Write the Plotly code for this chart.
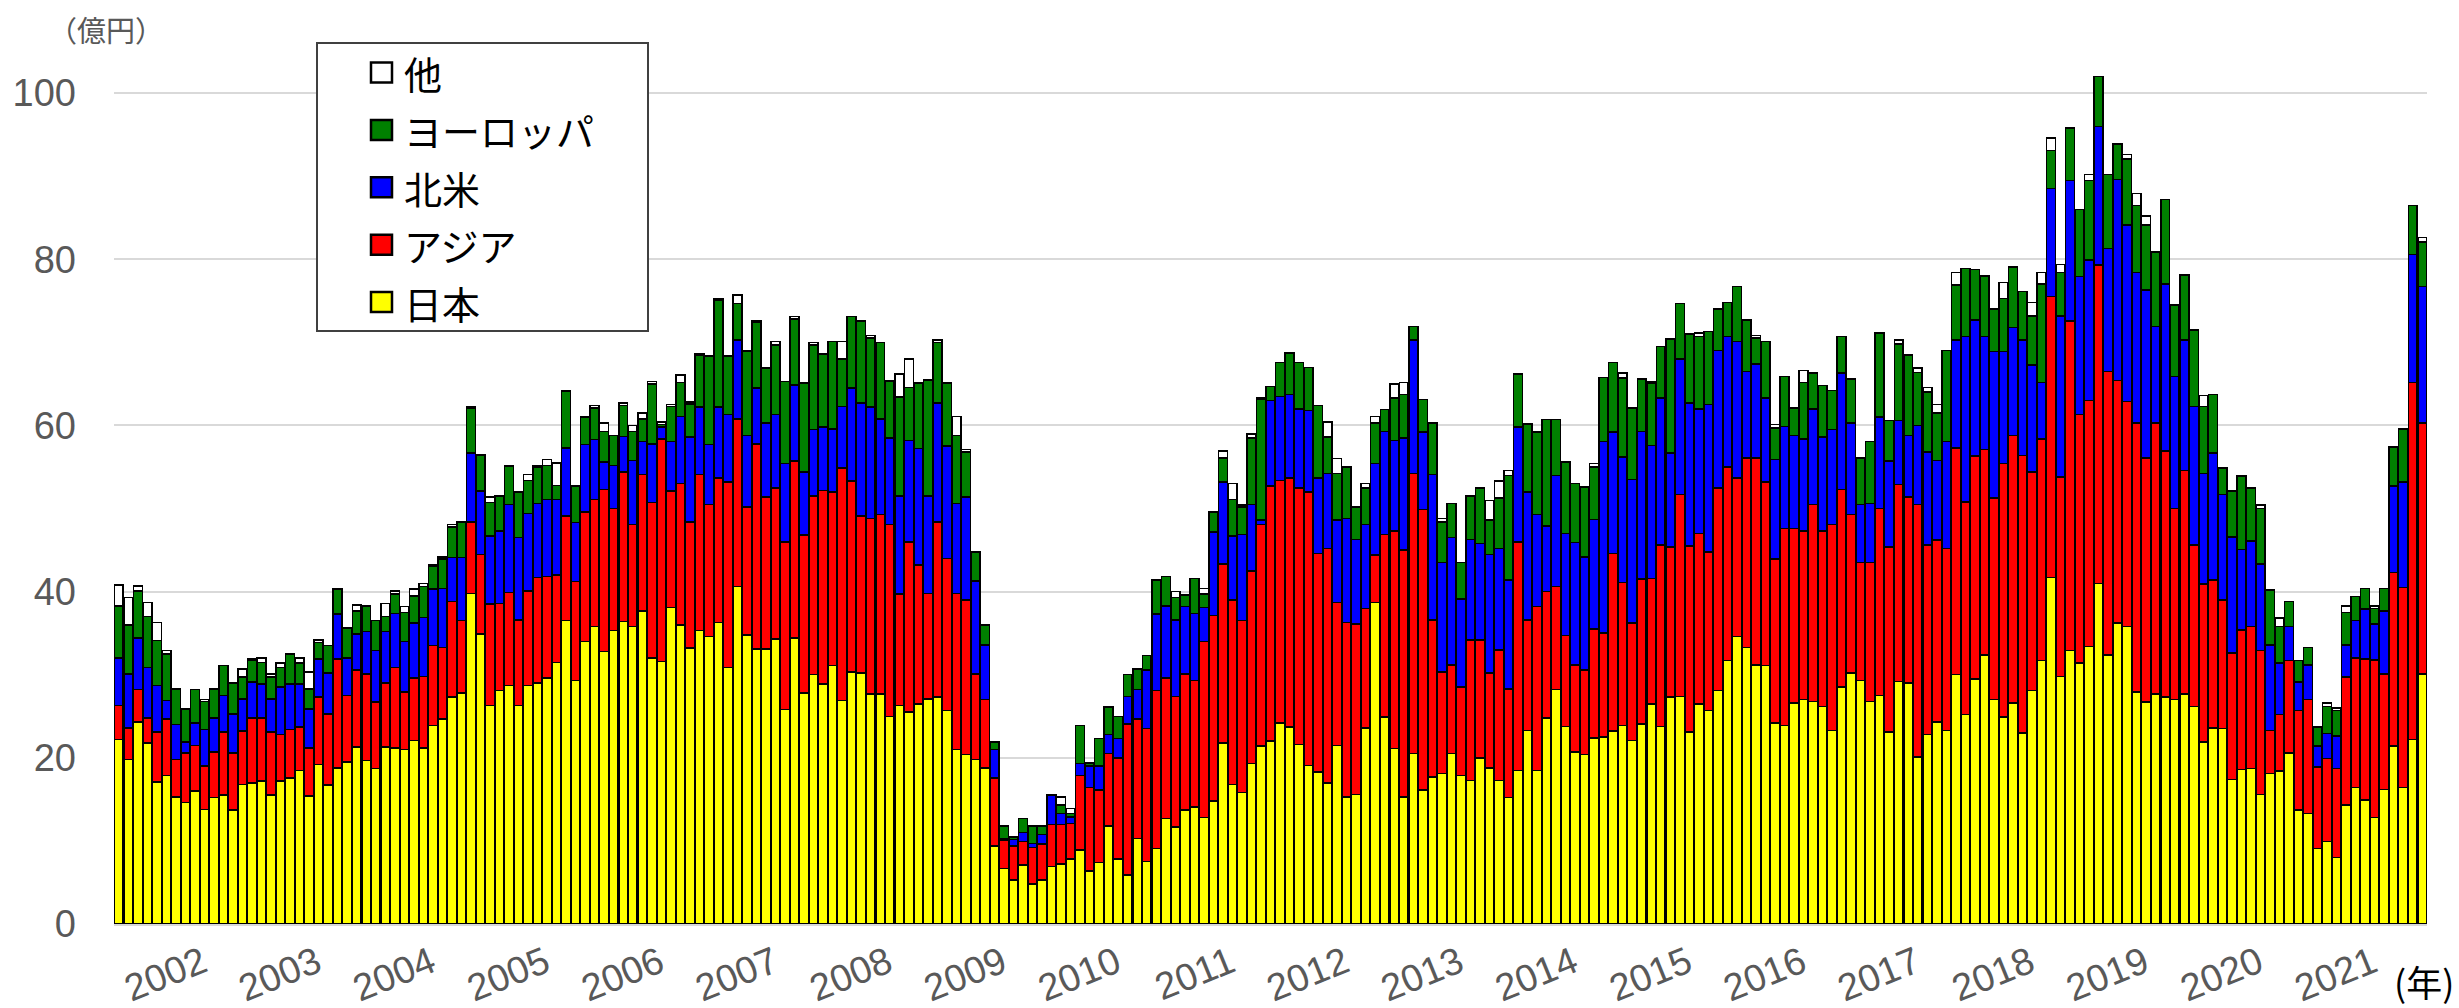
import pandas as pd
import plotly.graph_objs as go

# monthly categories, Aug 2001 .. Oct 2021
months = pd.date_range("2001-08-01", periods=243, freq="MS").strftime("%Y/%m").tolist()
years = list(range(2002, 2022))

japan = [
    22.2, 19.8, 24.3, 21.8, 17.1, 17.9, 15.3, 14.6, 16.0, 13.8, 15.2, 15.5,
    13.7, 16.8, 17.0, 17.2, 15.5, 17.2, 17.6, 18.5, 15.4, 19.2, 16.7, 18.8,
    19.5, 21.3, 19.7, 18.7, 21.3, 21.2, 21.0, 22.1, 21.2, 23.9, 24.7, 27.3,
    27.8, 39.8, 34.9, 26.3, 28.1, 28.7, 26.3, 28.7, 29.0, 29.6, 31.5, 36.5,
    29.3, 34.0, 35.8, 32.8, 35.3, 36.4, 35.8, 37.7, 32.0, 31.6, 38.1, 36.0,
    33.2, 35.3, 34.6, 36.3, 30.9, 40.6, 34.8, 33.1, 33.1, 34.3, 25.8, 34.4,
    27.8, 30.0, 28.9, 31.1, 26.9, 30.3, 30.2, 27.7, 27.7, 25.0, 26.3, 25.5,
    26.5, 27.1, 27.3, 25.7, 21.0, 20.4, 19.8, 18.8, 9.4, 6.7, 5.3, 7.1,
    4.8, 5.3, 6.9, 7.2, 7.8, 8.9, 6.4, 7.4, 11.8, 7.8, 5.9, 10.3,
    7.5, 9.1, 12.7, 11.7, 13.7, 14.1, 12.8, 14.8, 21.8, 16.8, 15.8, 19.3,
    21.4, 22.0, 24.2, 23.7, 21.6, 19.1, 18.3, 17.0, 21.5, 15.3, 15.6, 23.6,
    38.7, 24.9, 21.1, 15.3, 20.5, 16.1, 17.7, 18.1, 20.5, 17.9, 17.3, 20.0,
    18.8, 17.3, 15.2, 18.5, 23.3, 18.5, 24.8, 28.2, 23.8, 20.7, 20.4, 22.4,
    22.5, 23.2, 23.9, 22.1, 24.1, 26.5, 23.8, 27.3, 27.4, 23.1, 26.5, 25.7,
    28.1, 31.7, 34.6, 33.3, 31.2, 31.1, 24.2, 23.9, 26.6, 27.0, 26.8, 26.2,
    23.3, 28.5, 30.2, 29.3, 26.8, 27.5, 23.1, 29.2, 29.0, 20.1, 22.8, 24.3,
    23.3, 30.0, 25.2, 29.5, 32.4, 27.0, 24.9, 26.6, 23.0, 28.1, 31.7, 41.7,
    29.8, 32.9, 31.4, 33.4, 41.0, 32.4, 36.2, 35.8, 27.9, 26.7, 27.7, 27.3,
    27.0, 27.7, 26.2, 21.9, 23.6, 23.5, 17.4, 18.6, 18.7, 15.6, 18.1, 18.4,
    20.6, 13.7, 13.3, 9.1, 9.9, 8.0, 14.3, 16.4, 14.9, 12.8, 16.2, 21.4,
    16.4, 22.2, 30.1,
]

asia = [
    4.1, 3.8, 3.9, 3.0, 6.0, 6.8, 4.5, 6.0, 5.5, 5.2, 5.5, 7.6,
    6.9, 6.4, 7.8, 7.6, 7.6, 5.6, 5.8, 5.2, 5.8, 8.1, 8.6, 13.1,
    8.0, 9.3, 10.4, 8.0, 7.7, 9.7, 6.9, 7.5, 8.6, 9.6, 8.6, 11.5,
    8.7, 8.6, 9.6, 12.2, 10.5, 11.2, 10.3, 11.4, 12.7, 12.2, 10.5, 12.6,
    11.9, 15.6, 15.3, 19.5, 14.7, 18.0, 12.3, 16.4, 18.7, 26.8, 14.0, 17.0,
    15.2, 18.8, 15.9, 17.4, 22.3, 20.2, 15.4, 24.7, 18.3, 18.2, 20.2, 21.3,
    19.0, 21.5, 23.3, 20.9, 28.0, 23.0, 18.9, 21.1, 21.6, 23.1, 13.4, 20.5,
    16.7, 12.7, 21.1, 18.3, 18.8, 18.6, 10.3, 8.2, 8.2, 3.4, 4.1, 2.8,
    4.4, 4.3, 5.1, 4.8, 4.3, 9.0, 10.0, 8.7, 8.7, 12.2, 18.2, 14.4,
    16.0, 19.0, 16.9, 15.7, 16.4, 15.2, 21.2, 22.3, 21.5, 22.2, 20.7, 23.2,
    26.7, 30.7, 29.2, 30.0, 30.9, 32.9, 26.3, 28.2, 17.2, 21.0, 20.5, 14.4,
    5.7, 22.0, 26.2, 29.7, 33.7, 33.8, 18.9, 12.2, 10.7, 10.6, 16.9, 14.2,
    11.4, 15.7, 13.1, 27.5, 13.3, 19.7, 15.2, 12.4, 10.9, 10.5, 10.2, 13.1,
    12.5, 21.4, 17.2, 14.1, 17.4, 15.1, 21.8, 18.1, 24.3, 22.4, 20.5, 19.1,
    24.4, 23.3, 19.1, 22.8, 24.9, 22.1, 19.7, 23.7, 21.0, 20.3, 23.7, 21.1,
    24.8, 23.8, 19.1, 14.2, 16.7, 22.5, 22.3, 23.7, 22.4, 30.4, 22.8, 21.9,
    21.9, 27.3, 25.6, 26.8, 24.7, 24.3, 30.5, 32.2, 33.4, 26.3, 26.7, 33.8,
    24.0, 39.7, 29.9, 29.6, 38.3, 34.1, 29.2, 27.1, 32.4, 29.4, 32.6, 29.6,
    23.0, 26.9, 19.4, 19.0, 17.8, 15.5, 15.2, 16.8, 17.1, 17.3, 5.2, 6.8,
    11.1, 12.0, 13.7, 9.8, 10.0, 10.7, 15.4, 15.6, 17.0, 19.0, 13.9, 20.9,
    24.1, 43.0, 30.2,
]

north_america = [
    5.7, 6.5, 6.2, 6.1, 5.6, 2.2, 4.2, 1.3, 2.7, 4.4, 4.1, 4.4,
    4.7, 3.9, 4.3, 4.1, 4.0, 5.7, 5.5, 5.2, 4.7, 4.6, 4.9, 5.4,
    4.5, 4.3, 5.1, 6.2, 6.2, 6.5, 6.1, 6.6, 7.1, 6.8, 7.1, 5.3,
    7.6, 8.3, 7.6, 8.2, 8.7, 10.6, 9.9, 9.3, 8.9, 9.3, 9.1, 8.2,
    7.1, 8.1, 7.2, 3.3, 5.2, 4.3, 7.7, 4.0, 7.1, 1.4, 6.0, 8.1,
    10.2, 8.1, 7.2, 8.5, 8.1, 9.5, 8.6, 6.7, 8.9, 8.8, 9.4, 9.2,
    7.6, 8.0, 7.6, 7.6, 7.4, 11.2, 13.6, 13.4, 11.5, 10.4, 11.8, 12.2,
    14.0, 11.7, 14.3, 13.5, 10.8, 12.4, 11.2, 6.6, 3.4, 0.2, 0.8, 1.1,
    0.5, 1.2, 3.5, 1.3, 0.8, 1.4, 2.6, 2.9, 2.3, 2.3, 3.3, 3.5,
    7.1, 9.2, 8.7, 9.2, 8.1, 8.1, 4.1, 10.1, 9.9, 7.7, 10.4, 8.0,
    0.5, 10.3, 10.1, 10.0, 9.5, 9.8, 9.1, 9.0, 9.9, 12.5, 10.2, 10.1,
    11.0, 12.4, 10.9, 13.5, 16.1, 9.3, 17.5, 13.2, 15.3, 10.6, 12.1, 11.6,
    14.3, 12.2, 13.1, 13.8, 15.4, 11.1, 7.9, 13.4, 12.3, 14.7, 13.6, 13.2,
    23.1, 14.6, 15.1, 17.3, 17.8, 16.0, 17.7, 11.3, 16.3, 17.2, 15.0, 17.7,
    16.5, 15.7, 16.4, 10.4, 11.3, 10.1, 12.0, 12.3, 11.2, 11.1, 11.5, 11.3,
    11.4, 14.0, 11.0, 7.0, 7.1, 11.0, 10.3, 7.7, 7.4, 9.5, 11.2, 9.6,
    12.9, 13.0, 19.9, 16.4, 13.6, 17.6, 13.5, 13.0, 13.9, 12.9, 6.8, 13.0,
    19.4, 16.9, 16.6, 16.9, 16.7, 14.8, 24.2, 21.2, 18.1, 20.2, 11.6, 20.1,
    15.9, 15.7, 16.7, 13.3, 15.3, 12.7, 14.0, 9.7, 10.3, 10.4, 10.3, 6.2,
    4.1, 3.4, 4.2, 2.5, 3.0, 3.9, 3.9, 4.5, 6.0, 4.3, 7.6, 10.4,
    12.7, 15.4, 16.4,
]

europe = [
    6.3, 5.9, 5.7, 6.1, 5.4, 5.6, 4.3, 4.0, 4.0, 3.4, 3.5, 3.6,
    3.7, 2.6, 2.6, 2.6, 2.6, 2.4, 3.6, 2.5, 2.4, 2.0, 3.3, 3.0,
    3.6, 2.8, 3.1, 3.6, 1.8, 2.3, 3.5, 3.3, 3.7, 2.8, 3.5, 3.7,
    4.2, 5.4, 4.3, 4.0, 4.2, 4.6, 5.5, 4.0, 4.4, 4.1, 1.7, 6.8,
    4.4, 3.3, 3.8, 3.7, 3.6, 3.7, 3.5, 2.7, 7.2, 0.3, 4.2, 4.1,
    4.0, 6.3, 10.6, 12.9, 7.0, 4.4, 10.1, 7.9, 6.6, 8.4, 9.9, 7.9,
    10.7, 10.2, 8.8, 10.5, 5.7, 8.6, 9.8, 8.3, 9.2, 6.8, 11.9, 6.4,
    7.9, 13.9, 7.3, 7.6, 8.2, 5.4, 3.5, 2.4, 0.9, 1.5, 0.3, 1.7,
    2.1, 1.0, 0.1, 1.0, 0.4, 4.6, 0.4, 3.3, 3.3, 2.7, 2.6, 2.5,
    1.7, 4.1, 3.5, 2.7, 1.4, 4.2, 1.6, 2.4, 2.9, 4.4, 3.3, 8.0,
    14.5, 1.7, 4.1, 5.0, 5.6, 5.2, 8.7, 4.4, 5.6, 6.2, 3.9, 4.4,
    4.9, 2.6, 5.1, 5.2, 1.6, 3.9, 6.2, 4.9, 4.1, 4.4, 5.2, 6.7,
    4.1, 6.1, 12.6, 6.4, 8.2, 9.9, 12.8, 6.7, 8.6, 7.1, 8.4, 6.3,
    7.7, 8.4, 9.5, 8.6, 6.3, 7.5, 6.2, 13.7, 6.7, 8.3, 8.7, 8.8,
    5.0, 4.1, 6.6, 6.2, 3.1, 6.8, 3.8, 6.0, 3.3, 6.8, 4.3, 6.2,
    4.7, 4.4, 5.3, 5.6, 7.5, 10.1, 4.9, 9.2, 9.6, 6.4, 7.2, 5.7,
    10.9, 6.6, 8.2, 6.1, 7.3, 5.1, 6.4, 7.3, 5.8, 5.9, 11.8, 4.6,
    5.2, 6.3, 8.1, 9.6, 6.0, 8.9, 4.3, 8.0, 8.1, 7.8, 9.0, 10.2,
    8.6, 7.8, 9.2, 8.1, 7.0, 3.2, 5.5, 8.8, 6.4, 6.7, 6.6, 4.4,
    3.0, 2.6, 2.1, 2.3, 3.3, 3.1, 3.9, 2.9, 2.5, 1.9, 2.7, 4.7,
    6.4, 5.9, 5.4,
]

other = [
    2.5, 3.3, 0.6, 1.7, 2.2, 0.4, 0, 0, 0, 0.2, 0, 0,
    0, 1.0, 0.2, 0.5, 0.4, 0.5, 0, 0.6, 2.0, 0.3, 0, 0.1,
    0, 0.7, 0, 0, 1.6, 0.4, 0.7, 0.8, 0.4, 0.1, 0.3, 0.3,
    0.1, 0.1, 0.1, 0.7, 0, 0.1, 0, 0.7, 0.1, 0.7, 2.7, 0.1,
    0, 0.1, 0.3, 1.0, 0, 0.3, 0.7, 0.7, 0.3, 0.3, 0.2, 0.9,
    0.2, 0.1, 0.1, 0.2, 0.1, 1.0, 0.1, 0.2, 0.1, 0.4, 0, 0.3,
    0, 0.3, 0, 0, 2.1, 0, 0.1, 0.3, 0, 0.1, 2.8, 3.4,
    0, 0.1, 0.3, 0, 2.3, 0.3, 0, 0, 0, 0, 0, 0,
    0, 0, 0, 1.0, 0.6, 0, 0, 0, 0, 0, 0, 0,
    0, 0, 0, 0.7, 0, 0, 0.7, 0, 0.8, 1.9, 0.2, 0.5,
    0.2, 0, 0, 0, 0, 0, 0, 1.8, 1.8, 0, 0, 0.5,
    0.8, 0, 1.7, 1.5, 0, 0, 0, 0.4, 0, 0, 0, 0,
    2.4, 2.0, 0.6, 0, 0, 0, 0, 0, 0, 0, 0, 0.4,
    0, 0, 0.6, 0, 0, 0.2, 0, 0, 0, 0, 0.4, 0,
    0, 0, 0, 0, 0.3, 0, 0.4, 0, 0, 1.4, 0, 0,
    0, 0, 0, 0, 0, 0, 0, 0.5, 0.1, 0.5, 0.6, 1.0,
    0, 1.5, 0, 0, 0, 0, 1.9, 0, 0, 1.6, 1.4, 1.5,
    1.0, 0, 0, 0.7, 0, 0, 0, 0.5, 1.4, 1.1, 0, 0,
    0, 0, 0, 1.3, 0, 0, 0, 0, 0, 0.4, 0, 1.0,
    0, 0, 0, 0, 0.4, 0.3, 0.8, 0, 0, 0.3, 0, 0,
    0, 0, 0.5,
]

series = [
    ("日本", japan, "#FFFF00"),
    ("アジア", asia, "#FF0000"),
    ("北米", north_america, "#0000FF"),
    ("ヨーロッパ", europe, "#008000"),
    ("他", other, "#FFFFFF"),
]

# plot area in pixels
W, H = 2459, 1008
L, R, T, B = 114, 32, 74, 84
pw, ph = W - L - R, H - T - B


def px(x):
    return (x - L) / pw


def py(y):
    return (H - B - y) / ph


fig = go.Figure()
for name, vals, color in series:
    fig.add_trace(go.Bar(x=months, y=vals, name=name,
                         marker=dict(color=color, line=dict(color="black", width=1.5))))

# legend box drawn by hand (Excel-style squares)
shapes = [dict(type="rect", xref="paper", yref="paper",
               x0=px(317), x1=px(648), y0=py(331), y1=py(43),
               line=dict(color="#404040", width=2), fillcolor="white", layer="above")]
annotations = []
for k, (name, vals, color) in enumerate(reversed(series)):
    yc = 72.5 + 57.4 * k
    shapes.append(dict(type="rect", xref="paper", yref="paper",
                       x0=px(371), x1=px(392), y0=py(yc + 10), y1=py(yc - 10),
                       line=dict(color="black", width=2.5), fillcolor=color, layer="above"))
    annotations.append(dict(text=name, xref="paper", yref="paper", x=px(402), y=py(yc),
                            xanchor="left", yanchor="middle", showarrow=False,
                            font=dict(family="Noto Sans CJK JP", size=38, color="black")))

annotations += [
    dict(text="（億円）", xref="paper", yref="paper", x=px(106), y=py(29),
         xanchor="center", yanchor="middle", showarrow=False,
         font=dict(family="Noto Sans CJK JP", size=29, color="#595959")),
    dict(text="(年)", xref="paper", yref="paper", x=px(2456), y=py(981),
         xanchor="right", yanchor="middle", showarrow=False,
         font=dict(family="Noto Sans CJK JP", size=36, color="black")),
]

fig.update_layout(
    barmode="stack",
    bargap=0.06,
    showlegend=False,
    width=W, height=H,
    margin=dict(l=L, r=R, t=T, b=B, autoexpand=False),
    paper_bgcolor="white", plot_bgcolor="white",
    font=dict(family="Liberation Sans, Arial", color="#595959"),
    shapes=shapes,
    annotations=annotations,
)

fig.update_xaxes(
    type="category", range=[-0.5, len(months) - 0.5],
    tickmode="array",
    tickvals=[months.index(f"{y}/01") + 3.8 for y in years],
    ticktext=[str(y) for y in years],
    tickangle=-22, ticks="",
    tickfont=dict(size=38, color="#595959"),
    showline=True, linecolor="#d9d9d9", linewidth=2,
    showgrid=False, zeroline=False, automargin=False,
)
fig.update_yaxes(
    range=[0, 102.3], tickvals=[0, 20, 40, 60, 80, 100],
    tickfont=dict(size=38, color="#595959"),
    gridcolor="#d9d9d9", gridwidth=2, zeroline=False, showline=False,
    ticks="", ticklabelstandoff=37, automargin=False,
)

# page body margin would shift the fixed-size figure
fig.write_html("out.html", config={"displayModeBar": False},
               post_script="document.body.style.margin='0';")
